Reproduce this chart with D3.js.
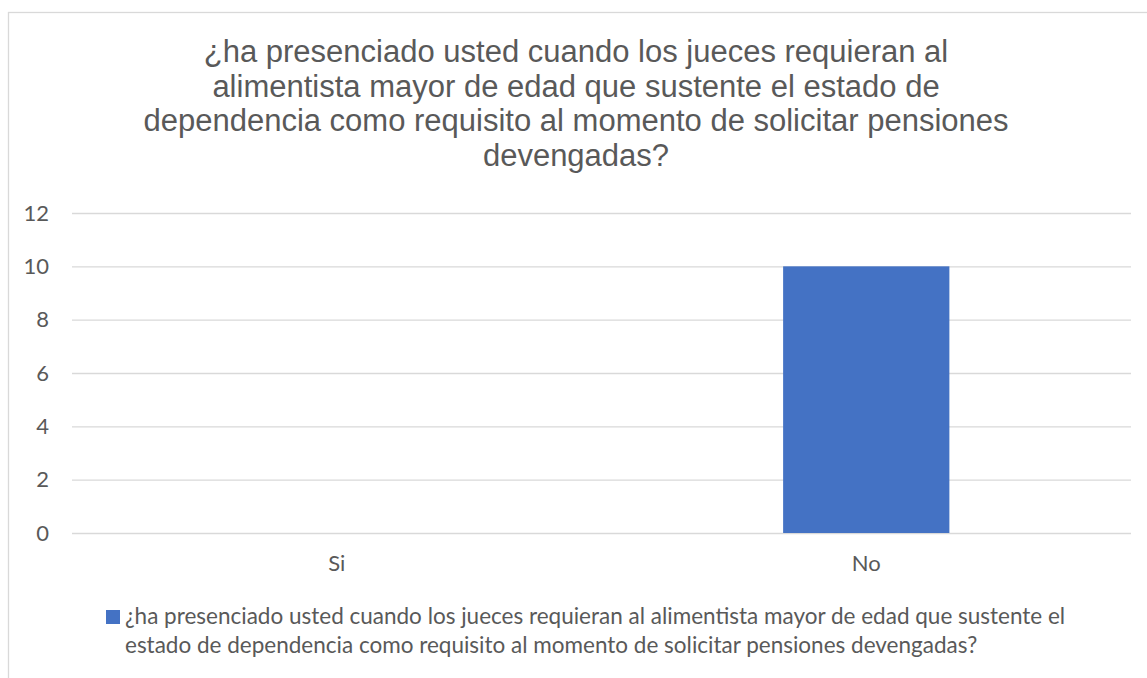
<!DOCTYPE html>
<html>
<head>
<meta charset="utf-8">
<script src="https://cdn.jsdelivr.net/npm/d3@7"></script>
<style>
  body { margin: 0; background: #fff; }
  #chart { display: block; }
  .axis text { fill: #595959; font-family: Lato, "Open Sans", sans-serif; font-size: 22px; }
  .grid line { stroke: #d9d9d9; stroke-width: 1.3; }
</style>
</head>
<body>
<svg id="chart" width="1147" height="678"></svg>
<script>
// Data
var categories = ["Si", "No"];
var values = [0, 10];
var yTicks = [0, 2, 4, 6, 8, 10, 12];
var titleLines = [
    "¿ha presenciado usted cuando los jueces requieran al",
    "alimentista mayor de edad que sustente el estado de",
    "dependencia como requisito al momento de solicitar pensiones",
    "devengadas?"
];
var legendLines = [
    "¿ha presenciado usted cuando los jueces requieran al alimentista mayor de edad que sustente el",
    "estado de dependencia como requisito al momento de solicitar pensiones devengadas?"
];

// Define margins
var margin = { top: 213, right: 16, bottom: 145, left: 72 },
    width = 1147 - margin.left - margin.right,
    height = 678 - margin.top - margin.bottom;

var svg = d3.select("#chart");

// Chart frame
svg.append("rect")
    .attr("x", 8.5)
    .attr("y", 12.5)
    .attr("width", 1200)
    .attr("height", 700)
    .attr("fill", "#fff")
    .attr("stroke", "#d9d9d9")
    .attr("stroke-width", 1.3);

// Title
var title = svg.append("text")
    .attr("text-anchor", "middle")
    .style("font-family", "'Liberation Sans', Arial, sans-serif")
    .style("font-size", "31px")
    .style("fill", "#595959");

title.selectAll("tspan")
    .data(titleLines)
    .enter()
    .append("tspan")
    .attr("x", 576)
    .attr("y", function (d, i) { return 62 + i * 34.5; })
    .text(function (d) { return d; });

var g = svg.append("g")
    .attr("transform", "translate(" + margin.left + "," + margin.top + ")");

// Define scales
var xScale = d3.scaleBand()
    .domain(categories)
    .range([0, width])
    .paddingInner(0.686)
    .paddingOuter(0.343);

var yScale = d3.scaleLinear()
    .domain([0, 12])
    .range([height, 0]);

// Y axis with gridlines
var yAxis = d3.axisLeft(yScale)
    .tickValues(yTicks)
    .tickSize(-width)
    .tickPadding(23);

g.append("g")
    .attr("class", "axis grid")
    .call(yAxis)
    .call(function (s) { s.select(".domain").remove(); });

// Bars
g.selectAll(".bar")
    .data(values)
    .enter()
    .append("rect")
    .attr("class", "bar")
    .attr("x", function (d, i) { return xScale(categories[i]); })
    .attr("y", function (d) { return yScale(d); })
    .attr("width", xScale.bandwidth())
    .attr("height", function (d) { return height - yScale(d); })
    .attr("fill", "#4472c4");

// X axis labels
var xAxis = d3.axisBottom(xScale).tickSize(0).tickPadding(0);

g.append("g")
    .attr("class", "axis")
    .attr("transform", "translate(0," + height + ")")
    .call(xAxis)
    .call(function (s) {
        s.select(".domain").remove();
        s.selectAll("text").attr("y", 38).attr("dy", 0);
    });

// Legend
svg.append("rect")
    .attr("x", 106)
    .attr("y", 610)
    .attr("width", 14)
    .attr("height", 14)
    .attr("fill", "#4472c4");

var legend = svg.append("text")
    .style("font-family", "Lato, 'Open Sans', sans-serif")
    .style("font-size", "22.5px")
    .style("fill", "#595959");

legend.selectAll("tspan")
    .data(legendLines)
    .enter()
    .append("tspan")
    .attr("x", 125)
    .attr("y", function (d, i) { return 624 + i * 29; })
    .text(function (d) { return d; });
</script>
</body>
</html>
